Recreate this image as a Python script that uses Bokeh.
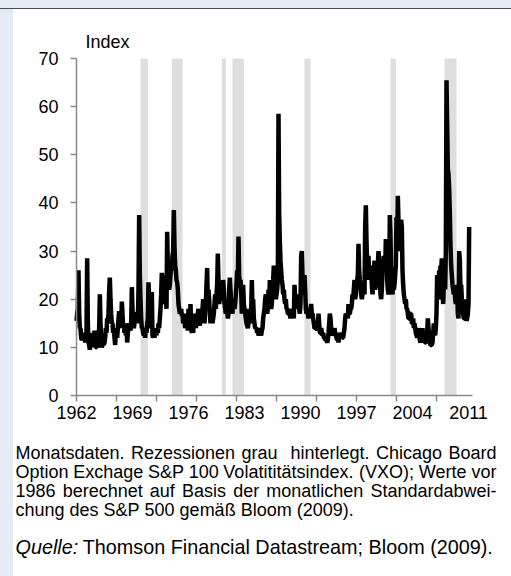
from bokeh.plotting import figure
from bokeh.models import Range1d, FixedTicker, GlobalInlineStyleSheet
from bokeh.core.properties import value
from bokeh.embed import file_html
from bokeh.resources import INLINE

# Monthly volatility index (VXO / Bloom 2009), Jul 1962 - Aug 2011
vxo_1960s = (
    [15.5, 17, 18, 26, 17, 14]                                  # 1962 Jul-Dec
    + [14, 12, 11.5, 12, 11.5, 12.5, 13, 11, 12, 13, 28.5, 15]  # 1963
    + [11, 10.5, 9.5, 12, 11, 13, 10, 12.5, 10.5, 13.5, 11, 10]  # 1964
    + [10, 11, 10, 12, 14, 21, 15, 11, 10, 10.5, 11, 10.5]      # 1965
    + [11, 12, 14, 13, 16, 15, 17, 22, 24.5, 20, 17, 15]        # 1966
    + [15, 13, 14, 12, 10.5, 14, 13, 12, 14, 16, 17.5, 15]      # 1967
    + [16, 14, 19.5, 17, 14, 15, 13, 14, 12.5, 15, 11, 13]      # 1968
    + [14, 15, 14.5, 13.5, 15, 22.5, 18, 15, 14, 15, 15.5, 17]  # 1969
)
vxo_1970s = (
    [17, 16, 15, 22, 37.5, 25, 20, 16, 14, 14, 13, 12.5]        # 1970
    + [13, 12, 14, 13, 15, 16, 23.5, 20, 15, 14, 17, 21.5]      # 1971
    + [12.5, 12, 13, 12, 14, 13, 12.5, 14, 13, 15, 14, 16]      # 1972
    + [18, 21, 25.5, 22, 25, 20, 22, 19, 21, 18, 34, 27]        # 1973
    + [24, 22, 23, 25, 27, 26, 29, 30, 38.5, 31, 27, 26]        # 1974
    + [24, 23.5, 22, 19, 18, 17, 17.5, 18, 16.5, 17, 15, 16]    # 1975
    + [16, 14, 15, 17, 14.5, 13.5, 18, 15, 16, 19, 14, 13]      # 1976
    + [14, 13, 16, 15, 17, 14, 16, 15, 17, 18, 15, 14.5]        # 1977
    + [17, 16, 15, 18, 20, 16, 15, 18, 19, 23, 26.5, 18]        # 1978
    + [22, 20, 17, 15, 18, 16, 15, 16, 17, 19, 21, 18]          # 1979
)
vxo_1980s = (
    [21, 23, 29.5, 24, 19, 20, 21, 23.5, 22, 20, 24, 22]        # 1980
    + [19, 18, 17, 20, 18, 16, 17, 22, 24.5, 22, 19, 18]        # 1981
    + [17, 20, 19, 18, 19, 21, 23, 26, 24, 33, 25, 23]          # 1982
    + [24, 22, 17, 20, 23, 19, 18, 17, 16, 15, 14.5, 14]        # 1983
    + [15, 18, 16, 15, 17, 24, 18, 20, 16, 15, 14, 14]          # 1984
    + [14, 13, 13.5, 12.5, 13, 14, 13, 12.5, 13.5, 14, 16, 17]  # 1985
    + [18, 20, 21, 19, 17, 18, 22, 18, 24, 20, 18, 19]          # 1986
    + [22, 24, 27, 26, 22, 20, 21, 22, 24, 58.5, 38, 32]        # 1987
    + [28, 26, 24, 23, 21, 22, 20, 19, 20, 18, 18, 17]          # 1988
    + [17, 18, 17, 16, 17, 18, 16, 17, 16, 23, 20, 18]          # 1989
)
vxo_1990s = (
    [20, 21, 19, 20, 18, 17, 19, 29, 30, 25, 22, 21]            # 1990
    + [25, 22, 18, 17, 18, 17, 16, 17, 17, 18, 19, 17]          # 1991
    + [17, 16, 15, 14, 14, 15, 14, 13.5, 14, 17, 15, 13]        # 1992
    + [13, 14, 13, 12.5, 13, 12, 12, 11.5, 12, 11.5, 11, 11.5]  # 1993
    + [13, 15, 17, 16, 14, 13, 12.5, 13, 12.5, 14, 13, 12.5]    # 1994
    + [12, 11.5, 12, 11, 12, 13, 12, 12.5, 13, 12, 12, 13]      # 1995
    + [14, 16, 17, 16.5, 17, 16, 19, 17, 17, 18, 18, 19]        # 1996
    + [21, 20, 22, 24, 20, 21, 23, 24, 25, 31.5, 26, 24]        # 1997
    + [23, 21, 20, 21, 22, 22, 21, 35, 39.5, 32, 27, 28]        # 1998
    + [29, 24, 26, 25, 27, 23, 21, 24, 25, 28, 22, 23]          # 1999
)
vxo_2000s = (
    [24, 25, 27, 30, 28, 24, 21, 20, 22, 26, 27, 29]            # 2000
    + [27, 26, 32.5, 31, 24, 22, 21, 23, 37.5, 33, 25, 22]      # 2001
    + [21, 24, 22, 23, 25, 27, 37, 31, 41.5, 36, 30, 31]        # 2002
    + [33, 36.5, 35, 26, 23, 21, 20, 19, 20, 18, 18, 17]        # 2003
    + [16, 16, 17, 17, 17, 15, 15, 16, 14, 15, 14, 13]          # 2004
    + [12.5, 12, 12.5, 14, 13, 11.5, 11, 12, 11.5, 14, 12, 11]  # 2005
    + [11.5, 11, 11, 11.5, 13, 16, 14, 12, 11, 10.5, 10.5, 10.5]  # 2006
    + [11, 13, 15, 13, 12.5, 14, 17, 25, 21, 20, 26, 23]        # 2007
    + [27, 26, 28.5, 22, 19, 23, 25, 22, 30, 65.5, 56, 47]      # 2008
    + [46, 43, 38, 31, 27, 25, 23, 22, 21, 23, 20, 19]          # 2009
)
vxo_2010s = (
    [20, 22, 17, 16, 30, 28, 22, 23, 20, 18, 17, 16]            # 2010
    + [16, 17, 20, 15.5, 16, 17, 19, 35]                        # 2011 Jan-Aug
)
vxo = vxo_1960s + vxo_1970s + vxo_1980s + vxo_1990s + vxo_2000s + vxo_2010s
months = list(range(len(vxo)))  # month position on the category axis

# Recession shading (month positions as drawn on the chart's axis)
rec_start = [96, 143, 218, 234, 342, 471, 552]
rec_end = [107, 159, 224, 251, 351, 479, 570]

x_labels = ["1962", "1969", "1976", "1983", "1990", "1997", "2004", "2011"]
x_label_pos = [84 * k for k in range(len(x_labels))]
x_tick_pos = [60 * k for k in range(10)]
y_ticks = [0, 10, 20, 30, 40, 50, 60, 70]
y_title = "Index"

note_lines = [
    "Monatsdaten. Rezessionen grau  hinterlegt. Chicago Board",
    "Option Exchage S&P 100 Volatititätsindex. (VXO); Werte vor",
    "1986 berechnet auf Basis der monatlichen Standardabwei-",
    "chung des S&P 500 gemäß Bloom (2009).",
]
note_justified = [True, True, True, False]
source_head = "Quelle:"
source_text = "Thomson Financial Datastream; Bloom (2009)."

# ---------------- layout / style ----------------
FONT = "Liberation Sans"
AXIS_COL = "#8a8a8a"
W, H = 511, 576
PL, PR, PT, PB = 76, 472, 58, 395          # plot area in page pixels
X_MAX, Y_MAX = 594, 70
KX = X_MAX / (PR - PL)
KY = Y_MAX / (PB - PT)


def dx(px):
    return (px - PL) * KX


def dy(py):
    return (PB - py) * KY


# Liberation Sans (Arial-metric) advance widths, 1/1000 em
ADV = {' ': 278, '&': 667, '(': 333, ')': 333, ',': 278, '-': 333, '.': 278, ':': 278, ';': 278,
       'A': 667, 'B': 667, 'C': 722, 'D': 722, 'E': 667, 'F': 611, 'G': 778, 'H': 722, 'I': 278,
       'J': 500, 'K': 667, 'L': 556, 'M': 833, 'N': 722, 'O': 778, 'P': 667, 'Q': 778, 'R': 722,
       'S': 667, 'T': 611, 'U': 722, 'V': 667, 'W': 944, 'X': 667, 'Y': 667, 'Z': 611,
       'a': 556, 'b': 556, 'c': 500, 'd': 556, 'e': 556, 'f': 278, 'g': 556, 'h': 556, 'i': 222,
       'j': 222, 'k': 500, 'l': 222, 'm': 833, 'n': 556, 'o': 556, 'p': 556, 'q': 556, 'r': 333,
       's': 500, 't': 278, 'u': 556, 'v': 500, 'w': 722, 'x': 500, 'y': 500, 'z': 500,
       'ä': 556, 'ö': 556, 'ü': 556, 'ß': 611}


def text_w(s, size):
    return sum(ADV.get(c, 556) for c in s) * size / 1000.0


NOTE_PX = 18.0
NOTE_LEFT, NOTE_RIGHT = 15, 496
NOTE_Y0, NOTE_DY = 452, 19
SRC_PX = 19.8
SRC_Y = 546

page_css = GlobalInlineStyleSheet(css=(
    "body{background-color:#ffffff;"
    "background-image:linear-gradient(to bottom,#e3ebf5 0px,#e3ebf5 8px,#4f4f4f 8px,#4f4f4f 9.5px,rgba(255,255,255,0) 9.5px),"
    "linear-gradient(to right,#e3ebf5 0px,#e3ebf5 13px,#ffffff 13px);}"
))

p = figure(width=W, height=H, x_range=Range1d(dx(0), dx(W)), y_range=Range1d(dy(H), dy(0)),
           output_backend="svg", toolbar_location=None, min_border=0,
           border_fill_color=None, background_fill_color=None, outline_line_color=None,
           stylesheets=[page_css])
p.xgrid.visible = False
p.ygrid.visible = False

p.quad(left=rec_start, right=rec_end, bottom=0, top=Y_MAX, fill_color="#dedede", line_color=None)
p.line(months, vxo, line_color="black", line_width=4.5)

xa = p.xaxis[0]
xa.fixed_location = 0
xa.bounds = (0, X_MAX)
xa.ticker = FixedTicker(ticks=x_label_pos, minor_ticks=x_tick_pos)
xa.major_label_overrides = {pos: lab for pos, lab in zip(x_label_pos, x_labels)}
xa.major_tick_line_color = None
xa.major_tick_out = 0
xa.major_tick_in = 0
xa.minor_tick_out = 6
xa.minor_tick_in = 0
xa.minor_tick_line_color = AXIS_COL
xa.minor_tick_line_width = 1.5
xa.axis_line_color = AXIS_COL
xa.axis_line_width = 1.5
xa.major_label_standoff = 4
xa.major_label_text_font = FONT
xa.major_label_text_font_size = "18px"
xa.major_label_text_color = "black"

ya = p.yaxis[0]
ya.fixed_location = 0
ya.bounds = (0, Y_MAX)
ya.ticker = FixedTicker(ticks=y_ticks, minor_ticks=[])
ya.major_tick_out = 6
ya.major_tick_in = 0
ya.major_tick_line_color = AXIS_COL
ya.major_tick_line_width = 1.5
ya.axis_line_color = AXIS_COL
ya.axis_line_width = 1.5
ya.major_label_standoff = 12
ya.major_label_text_font = FONT
ya.major_label_text_font_size = "18px"
ya.major_label_text_color = "black"

# axis title
p.text(x=[dx(85)], y=[dy(41)], text=[y_title], text_font=value(FONT), text_font_size=value("18px"),
       text_color="black", text_baseline="middle", text_align="left")

# notes, set as a justified paragraph (word by word)
wx, wy, wt = [], [], []
for k, (line, just) in enumerate(zip(note_lines, note_justified)):
    words = line.split(" ")
    natural = text_w(line, NOTE_PX)
    gaps = len(words) - 1
    extra = (NOTE_RIGHT - NOTE_LEFT - natural) / gaps if (just and gaps) else 0.0
    cx = NOTE_LEFT
    for w in words:
        if w:
            wx.append(dx(cx))
            wy.append(dy(NOTE_Y0 + NOTE_DY * k))
            wt.append(w)
        cx += text_w(w, NOTE_PX) + text_w(" ", NOTE_PX) + extra
p.text(x=wx, y=wy, text=wt, text_font=value(FONT), text_font_size=value(f"{NOTE_PX}px"),
       text_color="black", text_baseline="middle", text_align="left")

# source line: italic head, then the text
p.text(x=[dx(NOTE_LEFT)], y=[dy(SRC_Y)], text=[source_head], text_font=value(FONT),
       text_font_size=value(f"{SRC_PX}px"), text_font_style="italic", text_color="black",
       text_baseline="middle", text_align="left")
src_x = NOTE_LEFT + text_w(source_head + " ", SRC_PX) - 1
p.text(x=[dx(src_x)], y=[dy(SRC_Y)], text=[source_text], text_font=value(FONT),
       text_font_size=value(f"{SRC_PX}px"), text_color="black",
       text_baseline="middle", text_align="left")

open("out.html", "w").write(file_html(p, INLINE))
